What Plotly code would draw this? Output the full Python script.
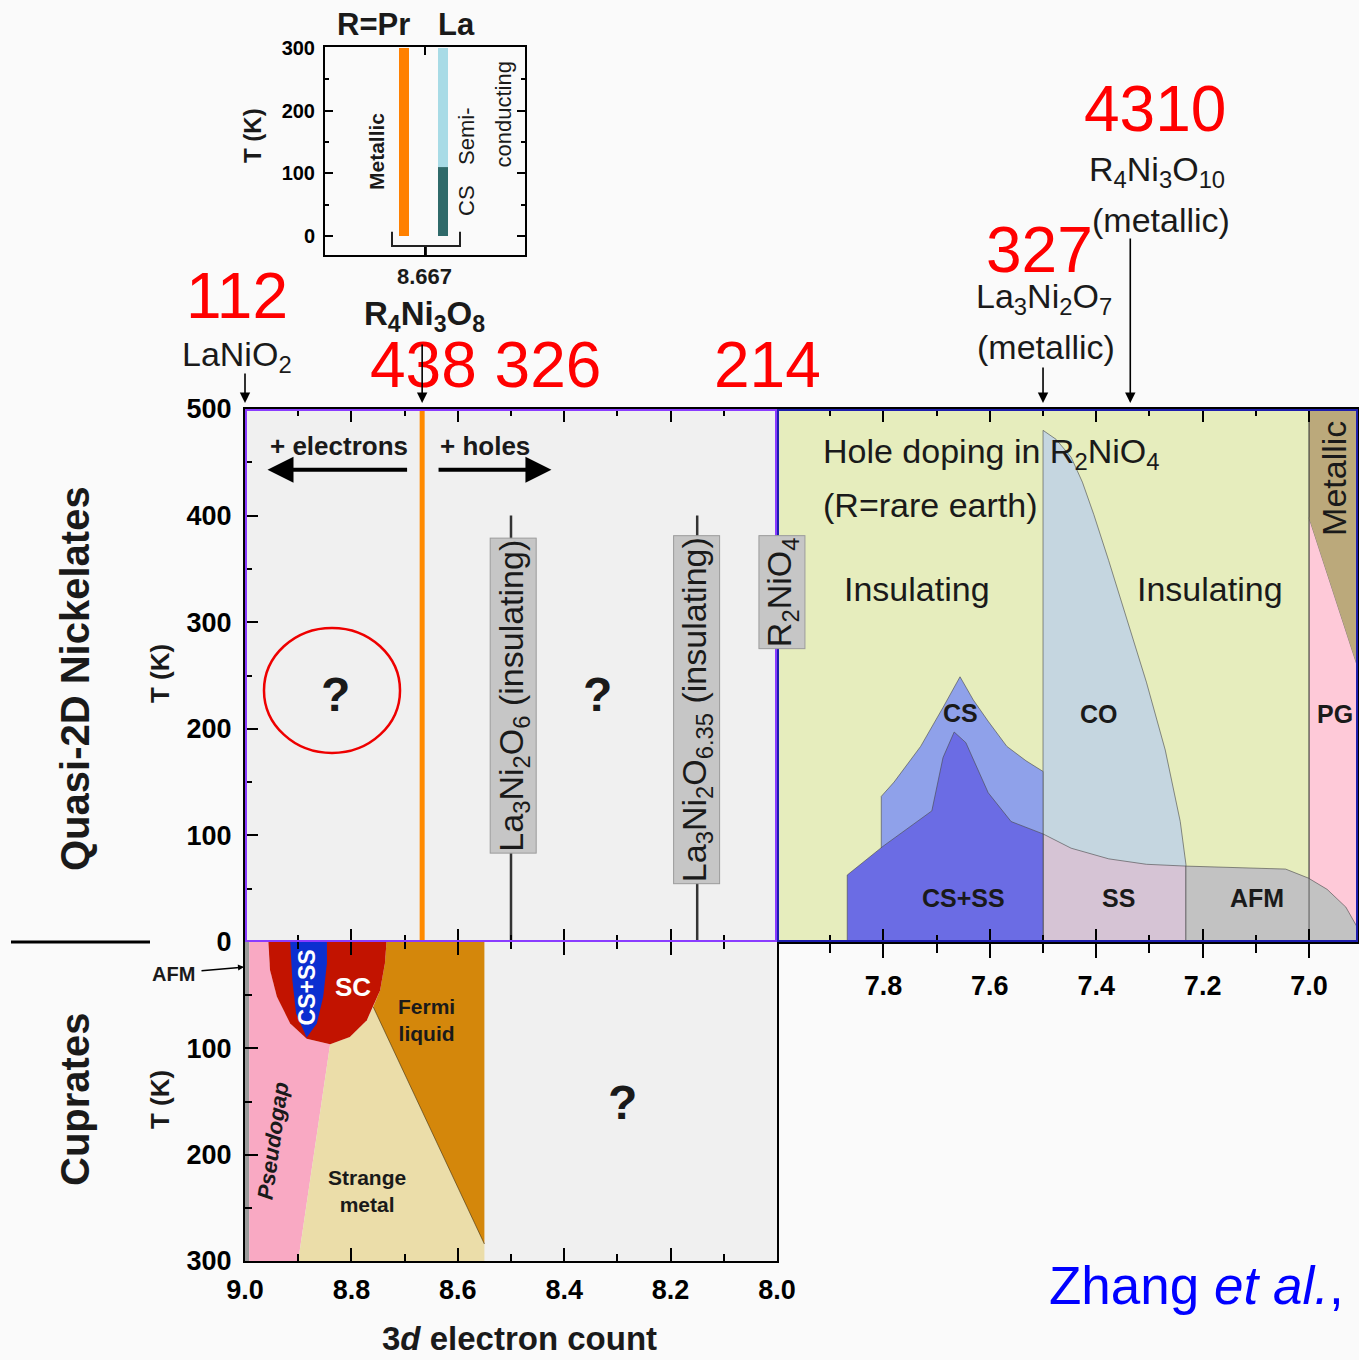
import plotly.graph_objects as go

W, H = 1359, 1360
FONT = "Liberation Sans, Arial, Helvetica, sans-serif"
INK = "#1a1a1a"
EDGE = "rgba(70,70,70,0.75)"

# =========================== DATA ===========================
# axis ranges / ticks
x_left_range = [9.0, 8.0]          # 3d electron count (quasi-2D nickelates + cuprates)
x_right_range = [8.0, 6.908]       # 3d electron count (hole-doped R2NiO4)
T_nick_range = [0, 500]
T_cup_range = [300, 0]
inset_x_range = [8.567, 8.767]
inset_T_range = [-30.3, 301.6]

T_nick_ticks = [0, 100, 200, 300, 400, 500]
T_cup_ticks = [0, 100, 200, 300]
T_cup_ticktext = ["", "100", "200", "300"]
T_minor_ticks = [50, 150, 250, 350, 450]
inset_T_ticks = [0, 100, 200, 300]
inset_x_ticks = [8.667]
x_right_ticks = [7.8, 7.6, 7.4, 7.2, 7.0]
x_right_minor = [7.9, 7.7, 7.5, 7.3, 7.1]

# cuprate phase diagram (x: 3d count, T: K)
cup_afm_x = [9.0, 8.992, 8.992, 9.0]
cup_afm_T = [0, 0, 300, 300]
cup_pg_x = [8.992, 8.956, 8.953, 8.940, 8.915, 8.884, 8.840, 8.900, 8.992]
cup_pg_T = [0, 0, 26.4, 51.6, 76.7, 90.9, 96.2, 300, 300]
cup_sm_x = [8.840, 8.803, 8.771, 8.759, 8.550, 8.550, 8.900]
cup_sm_T = [96.2, 89.3, 73.6, 61.0, 284, 300, 300]
cup_fl_x = [8.734, 8.550, 8.550, 8.759, 8.746, 8.737, 8.734]
cup_fl_T = [0, 0, 284, 61.0, 45.3, 20.1, 0]
cup_sc_x = [8.956, 8.953, 8.940, 8.915, 8.884, 8.840, 8.803, 8.771, 8.746, 8.737, 8.734]
cup_sc_T = [0, 26.4, 51.6, 76.7, 90.9, 96.2, 89.3, 73.6, 45.3, 20.1, 0]
cup_csss_x = [8.915, 8.911, 8.904, 8.884, 8.865, 8.853, 8.846, 8.846]
cup_csss_T = [0, 35.8, 67.3, 89.9, 76.7, 51.6, 20.1, 0]

# hole-doped R2NiO4 phase diagram
r214_co_x = [7.5, 7.5, 7.4756, 7.4472, 7.426, 7.4047, 7.3765, 7.3412, 7.3057, 7.2703, 7.2421, 7.2314, 7.2314]
r214_co_T = [0, 480, 471.6, 454.8, 431.4, 401.2, 357.7, 300.7, 243.8, 180.1, 113.1, 72.9, 0]
r214_ss_x = [7.5, 7.5, 7.4472, 7.3765, 7.3057, 7.2314, 7.2314]
r214_ss_T = [0, 101.4, 88, 78, 72.9, 71.2, 0]
r214_cs_x = [7.804, 7.804, 7.780, 7.730, 7.688, 7.656, 7.631, 7.603, 7.568, 7.532, 7.5, 7.5]
r214_cs_T = [0, 136.6, 150, 183.5, 220, 248.8, 227, 207, 183.5, 170, 160, 0]
r214_csss_x = [7.868, 7.868, 7.801, 7.709, 7.688, 7.667, 7.645, 7.603, 7.560, 7.5, 7.5]
r214_csss_T = [0, 62.8, 89.7, 123, 173, 197, 187, 140, 113, 101.4, 0]
r214_pg_x = [7.0, 7.0, 6.908, 6.908]
r214_pg_T = [0, 398, 257, 0]
r214_met_x = [7.0, 7.0, 6.908, 6.908]
r214_met_T = [398, 500, 500, 257]
r214_afm_x = [7.2314, 7.2314, 7.044, 7.0015, 6.9661, 6.9308, 6.908, 6.908]
r214_afm_T = [0, 71.2, 68.4, 60, 49.4, 32.7, 12.6, 0]

# quasi-2D nickelate compounds
r438_x = 8.667
r438_T = [0, 500]
insul_x = [8.5, 8.15]             # La3Ni2O6, La3Ni2O6.35
insul_T = [0, 400]
arrow_x_left = [9.0, 8.667]       # LaNiO2, R4Ni3O8
arrow_x_right = [7.5, 7.336]      # La3Ni2O7, R4Ni3O10

# inset (R4Ni3O8, R = Pr, La)
inset_bar_x = [8.646, 8.685]
pr_metal_T = [0, 300]
la_cs_T = [0, 110]
la_semi_T = [110, 300]
bracket_x = [8.634, 8.634, 8.702, 8.702]
bracket_T = [6.9, -16, -16, 6.9]
stub_x = [8.668, 8.668]
stub_T = [-16, -33]

# =========================== FIGURE ===========================
fig = go.Figure()


def PX(p):
    return p / W


def PY(p):
    return 1 - p / H


def poly(xs, ys, color, xa, ya, lw=0.8, lc=EDGE):
    fig.add_trace(go.Scatter(x=xs, y=ys, fill="toself", fillcolor=color, mode="lines",
                             line=dict(color=lc, width=lw), xaxis=xa, yaxis=ya,
                             hoverinfo="skip", showlegend=False))


def line(xs, ys, color, width, xa, ya):
    fig.add_trace(go.Scatter(x=xs, y=ys, mode="lines", line=dict(color=color, width=width),
                             xaxis=xa, yaxis=ya, hoverinfo="skip", showlegend=False))


# cuprates (x3, y3)
poly(cup_afm_x, cup_afm_T, "#9a9a9a", "x3", "y3", lw=0)
poly(cup_pg_x, cup_pg_T, "#f9a9c3", "x3", "y3", lw=0)
poly(cup_sm_x, cup_sm_T, "#ebdda9", "x3", "y3", lw=0)
poly(cup_fl_x, cup_fl_T, "#d4870b", "x3", "y3", lw=0)
poly(cup_sc_x, cup_sc_T, "#c21300", "x3", "y3", lw=0)
poly(cup_csss_x, cup_csss_T, "#0c2fd0", "x3", "y3", lw=0)
line([cup_fl_x[2], cup_fl_x[3]], [cup_fl_T[2], cup_fl_T[3]], "rgba(60,40,0,0.6)", 1, "x3", "y3")

# R2NiO4 block (x2, y2)
poly(r214_co_x, r214_co_T, "#c5d6e0", "x2", "y2")
poly(r214_ss_x, r214_ss_T, "#d6c4d5", "x2", "y2")
poly(r214_cs_x, r214_cs_T, "#8fa1ea", "x2", "y2")
poly(r214_csss_x, r214_csss_T, "#6b6ce4", "x2", "y2")
poly(r214_pg_x, r214_pg_T, "#fec9d8", "x2", "y2")
poly(r214_met_x, r214_met_T, "#bba97b", "x2", "y2")
poly(r214_afm_x, r214_afm_T, "#c2c2c2", "x2", "y2")
line([7.0, 7.0], [0, 500], "rgba(60,60,60,0.8)", 1, "x2", "y2")

# nickelate block (x, y)
for xv in insul_x:
    line([xv, xv], insul_T, "#333333", 2.5, "x", "y")
line([r438_x, r438_x], r438_T, "#ff8a00", 5, "x", "y")

# inset (x4, y4)
line([inset_bar_x[0]] * 2, pr_metal_T, "#ff8000", 10, "x4", "y4")
line([inset_bar_x[1]] * 2, la_semi_T, "#a8dbe6", 10, "x4", "y4")
line([inset_bar_x[1]] * 2, la_cs_T, "#2f6a6a", 10, "x4", "y4")
line(bracket_x, bracket_T, "#222222", 2, "x4", "y4")
line(stub_x, stub_T, "#222222", 2, "x4", "y4")

# dummy on overlay axis for right-block tick labels
fig.add_trace(go.Scatter(x=[7.5], y=[-1000], mode="markers", marker=dict(opacity=0),
                         xaxis="x6", yaxis="y2", hoverinfo="skip", showlegend=False))

# =========================== ANNOTATIONS ===========================
ann = []


def A(text, x, y, size, xref="paper", yref="paper", bold=False, italic=False, color=INK,
      angle=0, xanchor="center", yanchor="middle", **kw):
    d = dict(text=text, x=x, y=y, xref=xref, yref=yref, showarrow=False,
             font=dict(family=FONT, size=size, color=color,
                       weight="bold" if bold else "normal",
                       style="italic" if italic else "normal"),
             textangle=angle, xanchor=xanchor, yanchor=yanchor)
    d.update(kw)
    ann.append(d)


def arrow(x, xref, head_py, tail_py, width=1.6):
    ann.append(dict(text="", x=x, xref=xref, y=PY(head_py), yref="paper", ax=0,
                    ay=tail_py - head_py, showarrow=True, arrowhead=2, arrowsize=1.3,
                    arrowwidth=width, arrowcolor="black"))


# red structure labels
RED = "#ff0000"
A("112", PX(237), PY(296), 64, color=RED)
A("438 326", PX(485), PY(365), 64, color=RED)
A("214", PX(767), PY(365), 64, color=RED)
A("327", PX(1039), PY(250), 64, color=RED)
A("4310", PX(1155), PY(109), 64, color=RED)

# compounds above the panels
A("LaNiO<sub>2</sub>", PX(237), PY(357), 34)
A("R<sub>4</sub>Ni<sub>3</sub>O<sub>8</sub>", PX(424), PY(316), 33, bold=True)
A("La<sub>3</sub>Ni<sub>2</sub>O<sub>7</sub>", PX(1044), PY(298), 34)
A("(metallic)", PX(1046), PY(347), 34)
A("R<sub>4</sub>Ni<sub>3</sub>O<sub>10</sub>", PX(1157), PY(171), 34)
A("(metallic)", PX(1161), PY(220), 34)
arrow(arrow_x_left[0], "x", 403, 372)
arrow(arrow_x_left[1], "x", 403, 343)
arrow(arrow_x_right[0], "x2", 403, 366)
arrow(arrow_x_right[1], "x2", 403, 237)

# inset texts
A("R=Pr", PX(373), PY(24), 31, bold=True)
A("La", PX(457), PY(24), 31, bold=True)
A("T (K)", PX(253), PY(135), 24, bold=True, angle=-90)
A("8.667", PX(424), PY(277), 22, bold=True)
A("Metallic", 8.618, 134, 21, xref="x4", yref="y4", bold=True, angle=-90)
A("CS", 8.709, 56, 22, xref="x4", yref="y4", angle=-90)
A("Semi-", 8.709, 158, 22, xref="x4", yref="y4", angle=-90)
A("conducting", 8.745, 194, 22, xref="x4", yref="y4", angle=-90)

# nickelate block texts
A("+ electrons", 8.824, 465, 26, xref="x", yref="y", bold=True)
A("+ holes", 8.5496, 465, 26, xref="x", yref="y", bold=True)
ann.append(dict(text="", x=8.9577, y=443, ax=8.6925, ay=443, xref="x", yref="y", axref="x",
                ayref="y", showarrow=True, arrowhead=2, arrowsize=1.3, arrowwidth=4,
                arrowcolor="black"))
ann.append(dict(text="", x=8.424, y=443, ax=8.639, ay=443, xref="x", yref="y", axref="x",
                ayref="y", showarrow=True, arrowhead=2, arrowsize=1.3, arrowwidth=4,
                arrowcolor="black"))
A("?", 8.830, 232, 48, xref="x", yref="y", bold=True)
A("?", 8.3367, 232, 48, xref="x", yref="y", bold=True)
A("La<sub>3</sub>Ni<sub>2</sub>O<sub>6</sub> (insulating)", 8.495, 230.8, 34, xref="x", yref="y",
  angle=-90, bgcolor="#c6c6c6", bordercolor="#9c9c9c", borderwidth=1, borderpad=1)
A("La<sub>3</sub>Ni<sub>2</sub>O<sub>6.35</sub> (insulating)", 8.152, 217.6, 34, xref="x", yref="y",
  angle=-90, bgcolor="#c6c6c6", bordercolor="#9c9c9c", borderwidth=1, borderpad=1)
A("R<sub>2</sub>NiO<sub>4</sub>", 7.991, 328, 34, xref="x2", yref="y2",
  angle=-90, bgcolor="#c6c6c6", bordercolor="#9c9c9c", borderwidth=1, borderpad=1)

# R2NiO4 block texts
A("Hole doping in R<sub>2</sub>NiO<sub>4</sub>", 7.9177, 458, 34, xref="x2", yref="y2", xanchor="left")
A("(R=rare earth)", 7.9177, 410, 34, xref="x2", yref="y2", xanchor="left")
A("Insulating", 7.7372, 331, 34, xref="x2", yref="y2")
A("Insulating", 7.1855, 331, 34, xref="x2", yref="y2")
A("CS", 7.656, 215, 25, xref="x2", yref="y2", bold=True)
A("CO", 7.394, 214, 25, xref="x2", yref="y2", bold=True)
A("CS+SS", 7.649, 41, 25, xref="x2", yref="y2", bold=True)
A("SS", 7.3588, 41, 25, xref="x2", yref="y2", bold=True)
A("AFM", 7.097, 41, 25, xref="x2", yref="y2", bold=True)
A("PG", 6.952, 214, 25, xref="x2", yref="y2", bold=True)
A("Metallic", 6.952, 435, 34, xref="x2", yref="y2", angle=-90)

# cuprate block texts
A("Fermi<br>liquid", 8.6585, 73.5, 21, xref="x3", yref="y3", bold=True)
A("Strange<br>metal", 8.7713, 234, 21, xref="x3", yref="y3", bold=True)
A("Pseudogap", 8.9468, 187, 22, xref="x3", yref="y3", bold=True, italic=True, angle=-82)
A("SC", 8.7964, 42, 26, xref="x3", yref="y3", bold=True, color="white")
A("CS+SS", 8.884, 43, 23, xref="x3", yref="y3", bold=True, color="white", angle=-90)
A("?", 8.2895, 151, 48, xref="x3", yref="y3", bold=True)
A("AFM", PX(174), PY(974), 20, bold=True)
ann.append(dict(text="", x=PX(244), y=PY(967), xref="paper", yref="paper", ax=-44, ay=4,
                showarrow=True, arrowhead=2, arrowsize=0.8, arrowwidth=1.5, arrowcolor="black"))

# side labels & titles
A("Quasi-2D Nickelates", PX(75), PY(679), 40, bold=True, angle=-90)
A("Cuprates", PX(75), PY(1100), 40, bold=True, angle=-90)
A("T (K)", PX(160), PY(674), 26, bold=True, angle=-90)
A("T (K)", PX(160), PY(1100), 26, bold=True, angle=-90)
A("3<i>d</i> electron count", PX(519), PY(1338), 33, bold=True)
A("Zhang <i>et al.</i>,", PX(1196), PY(1285), 53, color="#0000ff")

# =========================== SHAPES ===========================
shapes = [
    dict(type="rect", xref="x", yref="y", x0=9.0, x1=8.0, y0=0, y1=500, fillcolor="#f0f0f0",
         line=dict(width=0), layer="below"),
    dict(type="rect", xref="x2", yref="y2", x0=8.0, x1=6.908, y0=0, y1=500, fillcolor="#e6edbd",
         line=dict(width=0), layer="below"),
    dict(type="rect", xref="x3", yref="y3", x0=9.0, x1=8.0, y0=0, y1=300, fillcolor="#f0f0f0",
         line=dict(width=0), layer="below"),
    dict(type="circle", xref="x", yref="y", x0=8.9643, x1=8.7086, y0=177.3, y1=294.6,
         line=dict(color="#ee0000", width=2.5), layer="above"),
    dict(type="rect", xref="x", yref="y", x0=9.0, x1=8.0, y0=0, y1=500,
         line=dict(color="#8a3cff", width=4), layer="above"),
    dict(type="rect", xref="x2", yref="y2", x0=8.0, x1=6.908, y0=0, y1=500,
         line=dict(color="#1e1eae", width=4), layer="above"),
    dict(type="line", xref="paper", yref="paper", x0=PX(11), x1=PX(150), y0=PY(942), y1=PY(942),
         line=dict(color="black", width=3)),
]

# =========================== AXES ===========================
tickfont = dict(family=FONT, size=27, color="black", weight="bold")
base = dict(showgrid=False, zeroline=False, showline=True, linecolor="black", linewidth=2,
            ticks="inside", tickcolor="black", tickwidth=2, mirror="allticks", automargin=False)

yA = [(H - 942) / H, (H - 409) / H]
yC = [(H - 1261) / H, (H - 942) / H]
xA = [245 / W, 777 / W]
xB = [777 / W, 1358 / W]

fig.update_layout(
    width=W, height=H, autosize=False,
    margin=dict(l=0, r=0, t=0, b=0, pad=0, autoexpand=False),
    paper_bgcolor="#fafafa", plot_bgcolor="rgba(0,0,0,0)",
    showlegend=False,
    xaxis=dict(base, domain=xA, range=x_left_range, anchor="y", ticklen=13, dtick=0.2, tick0=0,
               minor=dict(ticks="inside", ticklen=7, dtick=0.1, tick0=0, tickcolor="black", tickwidth=2),
               showticklabels=False),
    yaxis=dict(base, domain=yA, range=T_nick_range, anchor="x", ticklen=13, tickvals=T_nick_ticks,
               mirror=False,
               minor=dict(ticks="inside", ticklen=7, tickvals=T_minor_ticks, tickcolor="black", tickwidth=2),
               tickfont=tickfont, ticklabelstandoff=6),
    xaxis2=dict(base, domain=xB, range=x_right_range, anchor="y2", ticklen=13, dtick=0.2, tick0=0,
                minor=dict(ticks="inside", ticklen=7, dtick=0.1, tick0=0, tickcolor="black", tickwidth=2),
                showticklabels=False),
    yaxis2=dict(base, domain=yA, range=T_nick_range, anchor="x2", ticks="", mirror=True,
                showticklabels=False),
    xaxis6=dict(overlaying="x2", anchor="y2", side="bottom", range=x_right_range, showgrid=False,
                zeroline=False, showline=False, ticks="outside", ticklen=15, tickwidth=2,
                tickcolor="black", tickvals=x_right_ticks, automargin=False,
                minor=dict(ticks="outside", ticklen=10, tickvals=x_right_minor,
                           tickcolor="black", tickwidth=2),
                tickfont=tickfont, tickformat=".1f", ticklabelstandoff=5),
    xaxis3=dict(base, domain=xA, range=x_left_range, anchor="y3", ticklen=13, dtick=0.2, tick0=0,
                minor=dict(ticks="inside", ticklen=7, dtick=0.1, tick0=0, tickcolor="black", tickwidth=2),
                tickfont=tickfont, tickformat=".1f", ticklabelstandoff=4),
    yaxis3=dict(base, domain=yC, range=T_cup_range, anchor="x3", ticklen=13, tickvals=T_cup_ticks,
                ticktext=T_cup_ticktext, mirror=True,
                minor=dict(ticks="inside", ticklen=7, tickvals=[50, 150, 250], tickcolor="black", tickwidth=2),
                tickfont=tickfont, ticklabelstandoff=6),
    xaxis4=dict(base, domain=[325 / W, 525 / W], range=inset_x_range, anchor="y4", ticklen=8,
                tickvals=inset_x_ticks, showticklabels=False),
    yaxis4=dict(base, domain=[(H - 255) / H, (H - 47) / H], range=inset_T_range, anchor="x4",
                ticklen=8, tickvals=inset_T_ticks,
                minor=dict(ticks="inside", ticklen=4, tickvals=[50, 150, 250], tickcolor="black", tickwidth=2),
                tickfont=dict(family=FONT, size=20, color="black", weight="bold"), ticklabelstandoff=4),
    annotations=ann,
    shapes=shapes,
)

fig.write_html("out.html")
